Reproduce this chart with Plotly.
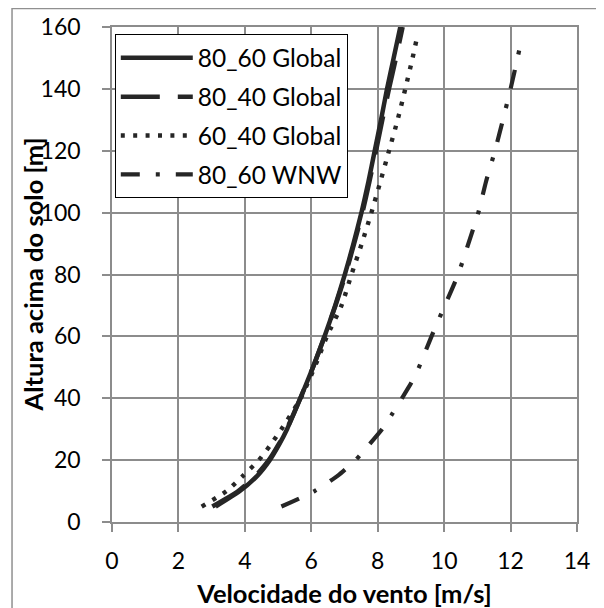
import plotly.graph_objects as go

# ---- data ----
heights_global = [5, 10, 15, 20, 25, 30, 40, 50, 60, 70, 80, 90, 100, 110, 120, 130, 140, 150, 160]
v_80_60_global = [3.12, 3.85, 4.38, 4.75, 5.03, 5.27, 5.67, 6.05, 6.40, 6.72, 7.01, 7.27, 7.51, 7.72, 7.91, 8.10, 8.28, 8.48, 8.68]
v_80_40_global = [3.02, 3.80, 4.33, 4.72, 5.01, 5.26, 5.67, 6.05, 6.40, 6.73, 7.03, 7.29, 7.54, 7.75, 7.95, 8.14, 8.34, 8.55, 8.75]

heights_60_40 = [5, 10, 15, 20, 25, 30, 40, 50, 60, 70, 80, 90, 100, 110, 120, 130, 140, 150, 157.5]
v_60_40_global = [2.70, 3.45, 3.95, 4.42, 4.78, 5.10, 5.68, 6.10, 6.47, 6.91, 7.21, 7.52, 7.81, 8.08, 8.34, 8.60, 8.83, 9.05, 9.20]

heights_wnw = [5, 10, 15, 20, 25, 30, 35, 40, 45, 50, 60, 70, 80, 90, 100, 110, 120, 130, 140, 150, 156.5]
v_80_60_wnw = [5.10, 6.10, 6.80, 7.33, 7.74, 8.13, 8.44, 8.73, 9.01, 9.24, 9.62, 10.02, 10.42, 10.73, 11.03, 11.26, 11.53, 11.77, 12.00, 12.21, 12.34]

series_names = ["80_60 Global", "80_40 Global", "60_40 Global", "80_60 WNW"]
x_ticks = [0, 2, 4, 6, 8, 10, 12, 14]
y_ticks = [0, 20, 40, 60, 80, 100, 120, 140, 160]
x_title = "Velocidade do vento [m/s]"
y_title = "Altura acima do solo [m]"

LINE = "#262626"
GRID = "#8c8c8c"
FONT = "Lato"

fig = go.Figure()
specs = [
    (v_80_60_global, heights_global, "solid", 4.5),
    (v_80_40_global, heights_global, "39px,18px", 4.5),
    (v_60_40_global, heights_60_40, "4px,8.4px", 4.4),
    (v_80_60_wnw, heights_wnw, "19px,16px,4px,16px", 4.2),
]
for name, (xs, ys, dash, w) in zip(series_names, specs):
    fig.add_trace(go.Scatter(
        x=xs, y=ys, mode="lines", name=name, legendgroup=name,
        line=dict(color=LINE, width=w, dash=dash, shape="spline", smoothing=0.6),
    ))

axis_common = dict(
    showgrid=True, gridcolor=GRID, gridwidth=1.5,
    showline=True, linecolor=GRID, linewidth=1.5, mirror=True,
    ticks="outside", ticklen=8, tickwidth=1.5, tickcolor=GRID,
    tickfont=dict(family=FONT, size=23, color="black"),
    zeroline=False, automargin=False,
)

fig.update_layout(
    width=604, height=608,
    margin=dict(l=104, r=35, t=19, b=94, autoexpand=False),
    paper_bgcolor="white", plot_bgcolor="white",
    font=dict(family=FONT, color="black"),
    xaxis=dict(range=[0, 14], tickvals=x_ticks, ticklabelstandoff=10,
               title=dict(text="<b>" + x_title + "</b>",
                          font=dict(family=FONT, size=25.5, color="black"), standoff=12),
               **axis_common),
    yaxis=dict(range=[0, 160], tickvals=y_ticks, ticklabelstandoff=17,
               **axis_common),
    legend=dict(
        x=0.006, y=0.985, xanchor="left", yanchor="top",
        bgcolor="white", bordercolor="black", borderwidth=1,
        font=dict(family=FONT, size=24.5, color="black"),
        itemwidth=72, tracegroupgap=4,
    ),
    showlegend=True,
)

# y-axis title placed as rotated text
fig.add_annotation(text="<b>" + y_title + "</b>", xref="paper", yref="paper",
                   x=-0.170, y=0.5, xanchor="center", yanchor="middle",
                   textangle=-90, showarrow=False,
                   font=dict(family=FONT, size=25.5, color="black"))

# outer chart border (only top and left edges fall inside the picture)
fig.add_shape(type="rect", xref="paper", yref="paper",
              x0=-0.215, x1=1.3, y0=-0.3, y1=1.0374,
              line=dict(color="#909090", width=1.5), layer="below")

fig.write_html("out.html")
